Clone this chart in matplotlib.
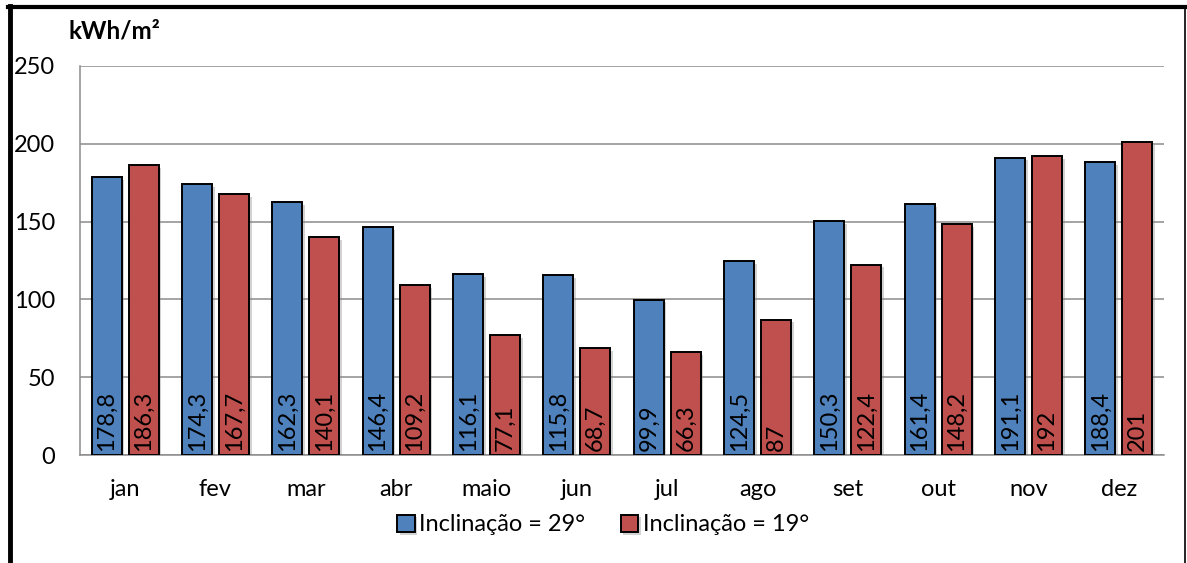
import matplotlib
matplotlib.use("Agg")
import matplotlib.pyplot as plt
import matplotlib.patheffects as pe
from matplotlib.lines import Line2D
import numpy as np

# monthly irradiation for the two panel tilts (kWh/m2)
months = ["jan", "fev", "mar", "abr", "maio", "jun", "jul", "ago", "set", "out", "nov", "dez"]
tilt_29 = [178.8, 174.3, 162.3, 146.4, 116.1, 115.8, 99.9, 124.5, 150.3, 161.4, 191.1, 188.4]
tilt_19 = [186.3, 167.7, 140.1, 109.2, 77.1, 68.7, 66.3, 87.0, 122.4, 148.2, 192.0, 201.0]
series_names = ["Inclinação = 29°", "Inclinação = 19°"]
y_ticks = [0, 50, 100, 150, 200, 250]

plt.rcParams["font.family"] = ["Lato", "DejaVu Sans"]
fs = 17

fig = plt.figure(figsize=(11.87, 5.63), dpi=100)
ax = fig.add_axes([0.0674, 0.1918, 0.9132, 0.691])

x = np.arange(len(months))
width = 0.332
shadow = [pe.SimplePatchShadow(offset=(2, -2), shadow_rgbFace="gray", alpha=0.35), pe.Normal()]

bars_a = ax.bar(x - 0.205, tilt_29, width, color="#4F81BD", edgecolor="black",
                linewidth=1.4, label=series_names[0], zorder=3)
bars_b = ax.bar(x + 0.205, tilt_19, width, color="#C0504D", edgecolor="black",
                linewidth=1.4, label=series_names[1], zorder=3)
for b in list(bars_a) + list(bars_b):
    b.set_path_effects(shadow)

def fmt(v):
    return f"{v:g}".replace(".", ",")

for bars, vals in [(bars_a, tilt_29), (bars_b, tilt_19)]:
    for b, v in zip(bars, vals):
        ax.annotate(fmt(v), xy=(b.get_x() + b.get_width() / 2, 0), xytext=(0, 3),
                    textcoords="offset points", rotation=90, ha="center", va="bottom",
                    fontsize=fs, zorder=4)

ax.set_xlim(-0.5, len(months) - 0.5)
ax.set_ylim(0, 250)
ax.set_yticks(y_ticks)
ax.set_xticks(x)
ax.set_xticklabels(months)
ax.tick_params(axis="both", length=0, labelsize=fs)
ax.tick_params(axis="x", pad=17)
ax.tick_params(axis="y", pad=18)
ax.grid(axis="y", color="#8c8c8c", linewidth=1.1, zorder=0)
for s in ["top", "right"]:
    ax.spines[s].set_visible(False)
for s in ["left", "bottom"]:
    ax.spines[s].set_color("#8c8c8c")
    ax.spines[s].set_linewidth(1.1)

fig.text(68 / 1187, 0.945, "kWh/m²", fontsize=17.5, fontweight="bold", ha="left", va="center")

fig.legend(loc="center", bbox_to_anchor=(0.508, 0.0675), ncol=2, frameon=False,
           fontsize=fs, handlelength=0.75, handleheight=0.75, handletextpad=0.2,
           columnspacing=1.5)

# chart frame
fig.add_artist(Line2D([10 / 1187, 10 / 1187], [0, 1 - 6 / 563], color="black", linewidth=3.5,
                      transform=fig.transFigure))
fig.add_artist(Line2D([8 / 1187, 1186 / 1187], [1 - 6.5 / 563, 1 - 6.5 / 563], color="black",
                      linewidth=3, transform=fig.transFigure))
fig.add_artist(Line2D([1185 / 1187, 1185 / 1187], [0, 1 - 6 / 563], color="black", linewidth=1.2,
                      transform=fig.transFigure))

fig.savefig("out.png", dpi=100)
